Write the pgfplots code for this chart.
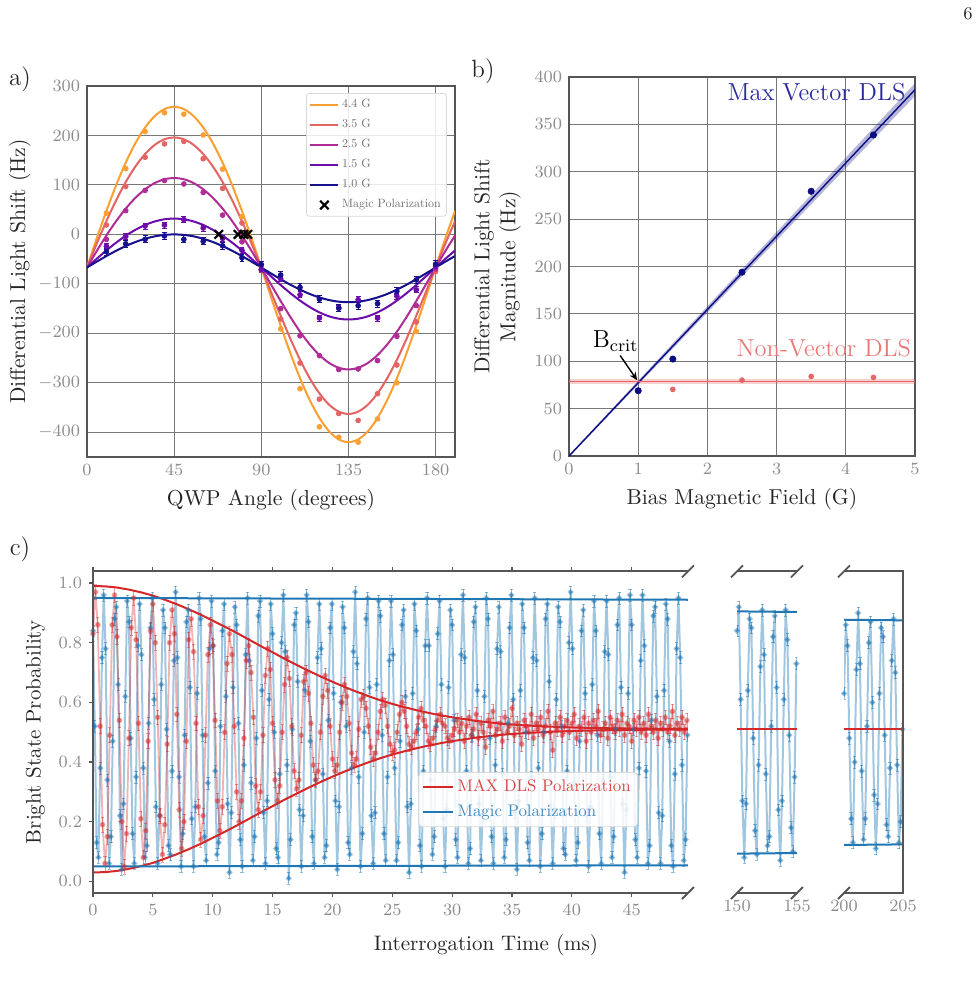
\RequirePackage{fix-cm}
\documentclass[border=0pt]{standalone}
\usepackage{pgfplots}
\pgfplotsset{compat=1.18}
\usetikzlibrary{arrows.meta}
\definecolor{tabblue}{RGB}{31,119,180}
\definecolor{tabred}{RGB}{214,39,40}
\definecolor{cA}{RGB}{250,160,50}
\definecolor{cB}{RGB}{228,100,100}
\definecolor{cC}{RGB}{176,44,150}
\definecolor{cD}{RGB}{108,12,170}
\definecolor{cE}{RGB}{22,16,140}
\definecolor{navyb}{RGB}{12,12,130}
\definecolor{navyt}{RGB}{40,40,160}
\definecolor{salm}{RGB}{228,102,102}
\definecolor{salmt}{RGB}{235,120,120}
\definecolor{framec}{RGB}{85,85,85}
\definecolor{gridc}{RGB}{120,120,120}
\definecolor{tickc}{RGB}{140,140,140}
\definecolor{legt}{RGB}{110,110,110}
\pgfplotsset{
  panel/.style={
    scale only axis,
    axis line style={draw=framec, line width=1pt},
    grid=major,
    grid style={gridc, line width=0.5pt},
    major tick length=0pt,
    tick label style={font=\fontsize{8.6}{10}\selectfont, text=tickc},
    label style={font=\fontsize{10.8}{13}\selectfont, text=black!85},
  },
  cpanel/.style={
    scale only axis,
    axis line style={draw=none},
    ymin=-0.039, ymax=1.039, height=160.8pt,
    tick label style={font=\fontsize{8.6}{10}\selectfont, text=tickc},
    label style={font=\fontsize{10.5}{13}\selectfont, text=black!85},
  },
  bdata/.style={forget plot, draw=tabblue, draw opacity=0.42, line width=1pt, mark=*, mark size=0.95pt,
    mark options={draw=none, fill=tabblue, fill opacity=0.55},
    error bars/.cd, y dir=both, y fixed=0.02,
    error bar style={tabblue, line width=0.3pt, draw opacity=0.5},
    error mark options={tabblue, draw opacity=0.5, mark size=0.8pt, rotate=90, line width=0.3pt}},
  rdata/.style={forget plot, draw=tabred, draw opacity=0.35, line width=0.9pt, mark=*, mark size=1pt,
    mark options={draw=none, fill=tabred, fill opacity=0.45},
    error bars/.cd, y dir=both, y fixed=0.025,
    error bar style={tabred, line width=0.3pt, draw opacity=0.45},
    error mark options={tabred, draw opacity=0.45, mark size=0.8pt, rotate=90, line width=0.3pt}},
}
\newcommand\legtxt[1]{\scalebox{0.6}{\fontsize{10}{12}\selectfont\textcolor{legt}{#1}}}
\newcommand\legc[2]{\scalebox{0.84}{\fontsize{10}{12}\selectfont\textcolor{#1}{#2}}}
\begin{document}
\begin{tikzpicture}
\path[use as bounding box] (0pt,0pt) rectangle (488.5pt,-496pt);
\node[font=\fontsize{9}{10}\selectfont, text=black!85] at (484pt,-7pt) {6};
\node[font=\fontsize{12.5}{14}\selectfont, text=black!85] at (10pt,-39.5pt) {a)};
\node[font=\fontsize{12.5}{14}\selectfont, text=black!85] at (241.5pt,-35.5pt) {b)};
\node[font=\fontsize{12.5}{14}\selectfont, text=black!85] at (10pt,-274.5pt) {c)};

% ---------------- panel a ----------------
\begin{axis}[panel, name=pa, at={(43.5pt,-228.5pt)}, anchor=south west,
  width=184pt, height=185.5pt,
  xmin=0, xmax=190, ymin=-450, ymax=300,
  xtick={0,45,90,135,180}, ytick={-400,-300,-200,-100,0,100,200,300},
  xlabel={QWP Angle (degrees)}, ylabel={Differential Light Shift (Hz)}, ylabel shift=-3pt,
  legend style={at={(0.978,0.981)}, anchor=north east, font=\fontsize{10}{12}\selectfont,
    draw=black!15, rounded corners=1.5pt, fill=white, fill opacity=0.85, text opacity=1,
    row sep=1.7pt, inner sep=1.5pt, nodes={inner sep=1.3pt}},
  legend cell align=left,
  legend image code/.code={\draw[mark repeat=2,mark phase=2,#1] plot coordinates {(0pt,0pt) (7pt,0pt) (14pt,0pt)};},
]
\addplot[cA, line width=1pt, smooth, tension=0.5] coordinates {(0,-67)(5,-8.4)(10,47.3)(15,99)(20,145.2)(25,184.5)(30,216.1)(35,239.3)(40,253.3)(45,258)(50,253.3)(55,239.3)(60,216.1)(65,184.5)(70,145.2)(75,99)(80,47.3)(85,-8.4)(90,-67)(95,-126.4)(100,-184.5)(105,-240)(110,-290.8)(115,-334.9)(120,-371.1)(125,-398.1)(130,-414.5)(135,-420)(140,-414.5)(145,-398.1)(150,-371.1)(155,-334.9)(160,-290.8)(165,-240)(170,-184.5)(175,-126.4)(180,-67)(185,-8.4)(190,47.3)};
\addlegendentry{\legtxt{4.4 G}}
\addplot[cB, line width=1pt, smooth, tension=0.5] coordinates {(0,-67)(5,-18.9)(10,26.7)(15,68.6)(20,105.9)(25,137.4)(30,162.6)(35,181.1)(40,192.3)(45,196)(50,192.3)(55,181.1)(60,162.6)(65,137.4)(70,105.9)(75,68.6)(80,26.7)(85,-18.9)(90,-67)(95,-116.1)(100,-164.5)(105,-210.9)(110,-253.5)(115,-290.8)(120,-321.4)(125,-344.3)(130,-358.3)(135,-363)(140,-358.3)(145,-344.3)(150,-321.4)(155,-290.8)(160,-253.5)(165,-210.9)(170,-164.5)(175,-116.1)(180,-67)(185,-18.9)(190,26.7)};
\addlegendentry{\legtxt{3.5 G}}
\addplot[cC, line width=1pt, smooth, tension=0.5] coordinates {(0,-67)(5,-33.7)(10,-2.3)(15,26.6)(20,52.2)(25,73.9)(30,91.2)(35,103.9)(40,111.5)(45,114)(50,111.5)(55,103.9)(60,91.2)(65,73.9)(70,52.2)(75,26.6)(80,-2.3)(85,-33.7)(90,-67)(95,-101.1)(100,-134.7)(105,-166.9)(110,-196.6)(115,-222.5)(120,-244)(125,-259.9)(130,-269.7)(135,-273)(140,-269.7)(145,-259.9)(150,-244)(155,-222.5)(160,-196.6)(165,-166.9)(170,-134.7)(175,-101.1)(180,-67)(185,-33.7)(190,-2.3)};
\addlegendentry{\legtxt{2.5 G}}
\addplot[cD, line width=1pt, smooth, tension=0.5] coordinates {(0,-67)(5,-49.4)(10,-32.5)(15,-16.8)(20,-2.6)(25,9.3)(30,19.1)(35,26.2)(40,30.6)(45,32)(50,30.6)(55,26.2)(60,19.1)(65,9.3)(70,-2.6)(75,-16.8)(80,-32.5)(85,-49.4)(90,-67)(95,-84.8)(100,-102.3)(105,-118.8)(110,-133.8)(115,-146.9)(120,-157.6)(125,-165.6)(130,-170.4)(135,-172)(140,-170.4)(145,-165.6)(150,-157.6)(155,-146.9)(160,-133.8)(165,-118.8)(170,-102.3)(175,-84.8)(180,-67)(185,-49.4)(190,-32.5)};
\addlegendentry{\legtxt{1.5 G}}
\addplot[cE, line width=1pt, smooth, tension=0.5] coordinates {(0,-67)(5,-55.1)(10,-43.8)(15,-33.1)(20,-23.6)(25,-15.4)(30,-8.8)(35,-3.9)(40,-1)(45,0)(50,-1)(55,-3.9)(60,-8.8)(65,-15.4)(70,-23.6)(75,-33.1)(80,-43.8)(85,-55.1)(90,-67)(95,-78.9)(100,-90.6)(105,-101.7)(110,-111.6)(115,-120.4)(120,-127.4)(125,-132.7)(130,-136)(135,-137)(140,-136)(145,-132.7)(150,-127.4)(155,-120.4)(160,-111.6)(165,-101.7)(170,-90.6)(175,-78.9)(180,-67)(185,-55.1)(190,-43.8)};
\addlegendentry{\legtxt{1.0 G}}
\addplot[forget plot, only marks, mark=*, mark size=1.2pt, cA] coordinates {(10,43)(20,133)(30,208)(40,246)(50,243)(60,201)(70,132)(80,36)(90,-65)(100,-191)(110,-312)(120,-389)(130,-410)(140,-420)(150,-373)(160,-300)(170,-196)(180,-65)};
\addplot[forget plot, only marks, mark=*, mark size=1.2pt, cB] coordinates {(10,19)(20,97)(30,156)(40,183)(50,188)(60,153)(70,93)(80,23)(90,-72)(100,-171)(110,-260)(120,-333)(130,-362)(140,-376)(150,-322)(160,-264)(170,-177)(180,-75)};
\addplot[forget plot, only marks, mark=*, mark size=1.2pt, cC] coordinates {(10,-10)(20,48)(30,89)(40,109)(50,102)(60,85)(70,39)(80,-15)(90,-71)(100,-150)(110,-205)(120,-245)(130,-273)(140,-272)(150,-255)(160,-206)(170,-144)(180,-70)};
\addplot[forget plot, only marks, mark=*, mark size=1.2pt, cD, error bars/.cd, y dir=both, y fixed=6, error bar style={line width=0.6pt}] coordinates {(10,-24)(20,-4)(30,17)(40,19)(50,30)(60,13)(70,-8)(80,-32)(90,-71)(100,-90)(110,-122)(120,-169)(130,-149)(140,-132)(150,-169)(160,-125)(170,-112)(180,-65)};
\addplot[forget plot, only marks, mark=*, mark size=1.2pt, cE, error bars/.cd, y dir=both, y fixed=7, error bar style={line width=0.6pt}] coordinates {(10,-35)(20,-19)(30,-10)(40,-3)(50,-10)(60,-14)(70,-23)(80,-47)(90,-61)(100,-82)(110,-107)(120,-131)(130,-149)(140,-144)(150,-140)(160,-115)(170,-92)(180,-60)};
\addplot[only marks, mark=x, mark size=3pt, black, line width=1.1pt] coordinates {(68,0)(78,0)(81,0)(83,0)};
\addlegendentry{\legtxt{Magic Polarization}}
\end{axis}

% ---------------- panel b ----------------
\begin{axis}[panel, name=pb, at={(284.5pt,-228pt)}, anchor=south west,
  width=173pt, height=189.5pt,
  xmin=0, xmax=5, ymin=0, ymax=400,
  xtick={0,1,2,3,4,5}, ytick={0,50,100,150,200,250,300,350,400},
  xlabel={Bias Magnetic Field (G)},
  ylabel={Differential Light Shift\\Magnitude (Hz)}, ylabel style={align=center},
]
\addplot[fill=navyb, fill opacity=0.3, draw=none] coordinates {(0,-1)(5,380)(5,393.5)(0,1)};
\addplot[fill=salm, fill opacity=0.3, draw=none] coordinates {(0,75.7)(5,75.7)(5,81.7)(0,81.7)};
\addplot[navyb, line width=0.7pt] coordinates {(0,0)(5,386.6)};
\addplot[salm, line width=0.9pt] coordinates {(0,78.7)(5,78.7)};
\addplot[only marks, mark=*, mark size=1.2pt, salm] coordinates {(1,69)(1.5,70.3)(2.5,80.1)(3.5,84)(4.4,83)};
\addplot[only marks, mark=*, mark size=1.55pt, navyb] coordinates {(1,68.9)(1.5,102.3)(2.5,194)(3.5,279.4)(4.4,338.8)};
\node[anchor=base east, inner sep=0pt, text=navyt, font=\fontsize{12.3}{14}\selectfont] at (axis cs:4.87,375) {Max Vector DLS};
\node[anchor=base east, inner sep=0pt, text=salmt, font=\fontsize{12.3}{14}\selectfont] at (axis cs:4.95,105) {Non-Vector DLS};
\node[anchor=base west, inner sep=0pt, font=\fontsize{12.3}{14}\selectfont] at (axis cs:0.34,114.7) {B$_{\mathrm{crit}}$};
\draw[-{Stealth[length=4pt,width=3.5pt]}, line width=0.7pt] (axis cs:0.74,106) -- (axis cs:0.985,80);
\end{axis}

% ---------------- panel c main ----------------
\begin{axis}[cpanel, name=pc, at={(46.5pt,-446.5pt)}, anchor=south west,
  width=297.5pt, xmin=0, xmax=49.7,
  xtick={0,5,10,15,20,25,30,35,40,45}, ytick={0,0.2,0.4,0.6,0.8,1},
  yticklabel style={/pgf/number format/.cd, fixed, fixed zerofill, precision=1},
  tick align=outside, major tick length=2pt, tick style={framec, line width=0.6pt},
  xtick pos=both, ytick pos=left,
  ylabel={Bright State Probability},
  legend style={at={(0.916,0.205)}, anchor=south east, font=\fontsize{10}{12}\selectfont,
    draw=black!15, rounded corners=2pt, fill=white, fill opacity=0.85, text opacity=1,
    row sep=1.3pt, inner sep=1.5pt, nodes={inner sep=2pt}},
  legend cell align=left,
  legend image code/.code={\draw[#1] (0pt,0pt) -- (15pt,0pt);},
]
\addplot[bdata] coordinates {
(0,0.84)(0.15,0.52)(0.3,0.13)(0.45,0.08)(0.6,0.38)(0.75,0.75)(0.9,0.96)(1.05,0.78)(1.2,0.34)(1.35,0.06)(1.5,0.15)(1.65,0.47)(1.8,0.88)(1.95,0.92)(2.1,0.66)(2.25,0.22)(2.4,0.04)(2.55,0.26)(2.7,0.62)(2.85,0.94)
(3,0.87)(3.15,0.48)(3.3,0.16)(3.45,0.06)(3.6,0.35)(3.75,0.79)(3.9,0.93)(4.05,0.76)(4.2,0.38)(4.35,0.08)(4.5,0.12)(4.65,0.53)(4.8,0.85)(4.95,0.95)(5.1,0.61)(5.25,0.25)(5.4,0.06)(5.55,0.22)(5.7,0.66)(5.85,0.91)
(6,0.85)(6.15,0.51)(6.3,0.12)(6.45,0.09)(6.6,0.37)(6.75,0.74)(6.9,0.97)(7.05,0.75)(7.2,0.35)(7.35,0.05)(7.5,0.16)(7.65,0.49)(7.8,0.87)(7.95,0.91)(8.1,0.65)(8.25,0.21)(8.4,0.05)(8.55,0.25)(8.7,0.63)(8.85,0.95)
(9,0.88)(9.15,0.49)(9.3,0.15)(9.45,0.07)(9.6,0.33)(9.75,0.78)(9.9,0.94)(10.05,0.79)(10.2,0.37)(10.35,0.09)(10.5,0.13)(10.65,0.52)(10.8,0.84)(10.95,0.93)(11.1,0.62)(11.25,0.26)(11.4,0.03)(11.55,0.23)(11.7,0.65)(11.85,0.92)
(12,0.86)(12.15,0.53)(12.3,0.14)(12.45,0.05)(12.6,0.39)(12.75,0.76)(12.9,0.95)(13.05,0.74)(13.2,0.33)(13.35,0.07)(13.5,0.15)(13.65,0.48)(13.8,0.89)(13.95,0.94)(14.1,0.64)(14.25,0.23)(14.4,0.06)(14.55,0.27)(14.7,0.61)(14.85,0.93)
(15,0.83)(15.15,0.50)(15.3,0.11)(15.45,0.08)(15.6,0.36)(15.75,0.80)(15.9,0.96)(16.05,0.77)(16.2,0.39)(16.35,0.01)(16.5,0.14)(16.65,0.51)(16.8,0.86)(16.95,0.90)(17.1,0.67)(17.25,0.24)(17.4,0.05)(17.55,0.22)(17.7,0.64)(17.85,0.96)
(18,0.87)(18.15,0.47)(18.3,0.15)(18.45,0.06)(18.6,0.34)(18.75,0.75)(18.9,0.93)(19.05,0.78)(19.2,0.36)(19.35,0.08)(19.5,0.12)(19.65,0.54)(19.8,0.85)(19.95,0.93)(20.1,0.63)(20.25,0.27)(20.4,0.04)(20.55,0.25)(20.7,0.60)(20.85,0.92)
(21,0.85)(21.15,0.52)(21.3,0.13)(21.45,0.09)(21.6,0.38)(21.75,0.77)(21.9,0.97)(22.05,0.73)(22.2,0.35)(22.35,0.05)(22.5,0.16)(22.65,0.50)(22.8,0.88)(22.95,0.95)(23.1,0.65)(23.25,0.22)(23.4,0.06)(23.55,0.23)(23.7,0.66)(23.85,0.94)
(24,0.89)(24.15,0.49)(24.3,0.16)(24.45,0.07)(24.6,0.35)(24.75,0.74)(24.9,0.94)(25.05,0.76)(25.2,0.38)(25.35,0.07)(25.5,0.13)(25.65,0.47)(25.8,0.86)(25.95,0.91)(26.1,0.62)(26.25,0.25)(26.4,0.03)(26.55,0.26)(26.7,0.63)(26.85,0.93)
(27,0.84)(27.15,0.51)(27.3,0.12)(27.45,0.05)(27.6,0.37)(27.75,0.79)(27.9,0.95)(28.05,0.79)(28.2,0.34)(28.35,0.09)(28.5,0.15)(28.65,0.52)(28.8,0.83)(28.95,0.94)(29.1,0.66)(29.25,0.21)(29.4,0.05)(29.55,0.24)(29.7,0.65)(29.85,0.91)
(30,0.86)(30.15,0.54)(30.3,0.14)(30.45,0.08)(30.6,0.33)(30.75,0.76)(30.9,0.96)(31.05,0.75)(31.2,0.37)(31.35,0.06)(31.5,0.11)(31.65,0.49)(31.8,0.87)(31.95,0.92)(32.1,0.64)(32.25,0.26)(32.4,0.07)(32.55,0.22)(32.7,0.62)(32.85,0.95)
(33,0.88)(33.15,0.48)(33.3,0.15)(33.45,0.06)(33.6,0.39)(33.75,0.78)(33.9,0.92)(34.05,0.77)(34.2,0.36)(34.35,0.08)(34.5,0.14)(34.65,0.53)(34.8,0.85)(34.95,0.96)(35.1,0.61)(35.25,0.23)(35.4,0.04)(35.55,0.27)(35.7,0.64)(35.85,0.93)
(36,0.85)(36.15,0.50)(36.3,0.13)(36.45,0.07)(36.6,0.35)(36.75,0.75)(36.9,0.95)(37.05,0.74)(37.2,0.38)(37.35,0.05)(37.5,0.16)(37.65,0.50)(37.8,0.88)(37.95,0.93)(38.1,0.67)(38.25,0.24)(38.4,0.06)(38.55,0.23)(38.7,0.61)(38.85,0.92)
(39,0.87)(39.15,0.52)(39.3,0.11)(39.45,0.09)(39.6,0.37)(39.75,0.80)(39.9,0.97)(40.05,0.78)(40.2,0.33)(40.35,0.07)(40.5,0.13)(40.65,0.47)(40.8,0.84)(40.95,0.91)(41.1,0.63)(41.25,0.22)(41.4,0.05)(41.55,0.25)(41.7,0.66)(41.85,0.94)
(42,0.84)(42.15,0.49)(42.3,0.16)(42.45,0.06)(42.6,0.34)(42.75,0.77)(42.9,0.94)(43.05,0.76)(43.2,0.35)(43.35,0.08)(43.5,0.15)(43.65,0.51)(43.8,0.86)(43.95,0.95)(44.1,0.65)(44.25,0.26)(44.4,0.03)(44.55,0.24)(44.7,0.63)(44.85,0.96)
(45,0.86)(45.15,0.51)(45.3,0.14)(45.45,0.08)(45.6,0.38)(45.75,0.74)(45.9,0.96)(46.05,0.79)(46.2,0.37)(46.35,0.06)(46.5,0.12)(46.65,0.54)(46.8,0.89)(46.95,0.92)(47.1,0.62)(47.25,0.23)(47.4,0.06)(47.55,0.22)(47.7,0.64)(47.85,0.93)
(48,0.88)(48.15,0.47)(48.3,0.12)(48.45,0.05)(48.6,0.36)(48.75,0.78)(48.9,0.95)(49.05,0.75)(49.2,0.39)(49.35,0.07)(49.5,0.14)(49.65,0.49)
};
\addplot[rdata] coordinates {
(0,0.83)(0.2,0.97)(0.4,0.86)(0.6,0.52)(0.8,0.19)(1,0.06)(1.2,0.15)(1.4,0.49)
(1.6,0.86)(1.8,0.96)(2,0.82)(2.2,0.54)(2.4,0.20)(2.6,0.05)(2.8,0.16)(3,0.48)
(3.2,0.85)(3.4,0.95)(3.6,0.81)(3.8,0.53)(4,0.21)(4.2,0.08)(4.4,0.17)(4.6,0.47)
(4.8,0.84)(5,0.93)(5.2,0.80)(5.4,0.55)(5.6,0.22)(5.8,0.09)(6,0.19)(6.2,0.46)
(6.4,0.80)(6.6,0.91)(6.8,0.83)(7,0.56)(7.2,0.24)(7.4,0.11)(7.6,0.20)(7.8,0.47)
(8,0.81)(8.2,0.88)(8.4,0.77)(8.6,0.53)(8.8,0.25)(9,0.14)(9.2,0.22)(9.4,0.49)
(9.6,0.76)(9.8,0.86)(10,0.79)(10.2,0.54)(10.4,0.27)(10.6,0.17)(10.8,0.25)(11,0.50)
(11.2,0.73)(11.4,0.83)(11.6,0.76)(11.8,0.52)(12,0.30)(12.2,0.20)(12.4,0.27)(12.6,0.48)
(12.8,0.74)(13,0.79)(13.2,0.70)(13.4,0.55)(13.6,0.32)(13.8,0.24)(14,0.30)(14.2,0.49)
(14.4,0.69)(14.6,0.78)(14.8,0.71)(15,0.53)(15.2,0.34)(15.4,0.27)(15.6,0.32)(15.8,0.50)
(16,0.66)(16.2,0.75)(16.4,0.68)(16.6,0.52)(16.8,0.37)(17,0.31)(17.2,0.34)(17.4,0.49)
(17.6,0.67)(17.8,0.70)(18,0.63)(18.2,0.53)(18.4,0.39)(18.6,0.34)(18.8,0.37)(19,0.50)
(19.2,0.62)(19.4,0.69)(19.6,0.64)(19.8,0.52)(20,0.41)(20.2,0.37)(20.4,0.39)(20.6,0.50)
(20.8,0.60)(21,0.66)(21.2,0.62)(21.4,0.53)(21.6,0.43)(21.8,0.39)(22,0.41)(22.2,0.51)
(22.4,0.61)(22.6,0.62)(22.8,0.58)(23,0.52)(23.2,0.45)(23.4,0.41)(23.6,0.43)(23.8,0.50)
(24,0.57)(24.2,0.61)(24.4,0.59)(24.6,0.52)(24.8,0.46)(25,0.43)(25.2,0.44)(25.4,0.50)
(25.6,0.56)(25.8,0.60)(26,0.57)(26.2,0.52)(26.4,0.46)(26.6,0.45)(26.8,0.47)(27,0.50)
(27.2,0.55)(27.4,0.58)(27.6,0.54)(27.8,0.52)(28,0.47)(28.2,0.46)(28.4,0.48)(28.6,0.51)
(28.8,0.54)(29,0.56)(29.2,0.53)(29.4,0.52)(29.6,0.48)(29.8,0.47)(30,0.49)(30.2,0.51)
(30.4,0.54)(30.6,0.50)(30.8,0.53)(31,0.47)(31.2,0.52)(31.4,0.55)(31.6,0.49)(31.8,0.51)(32,0.56)(32.2,0.48)
(32.4,0.53)(32.6,0.50)(32.8,0.45)(33,0.54)(33.2,0.52)(33.4,0.57)(33.6,0.49)(33.8,0.51)(34,0.53)(34.2,0.47)
(34.4,0.55)(34.6,0.50)(34.8,0.52)(35,0.58)(35.2,0.49)(35.4,0.53)(35.6,0.51)(35.8,0.46)(36,0.54)(36.2,0.52)
(36.4,0.50)(36.6,0.56)(36.8,0.48)(37,0.53)(37.2,0.51)(37.4,0.55)(37.6,0.49)(37.8,0.52)(38,0.57)(38.2,0.50)
(38.4,0.44)(38.6,0.53)(38.8,0.51)(39,0.55)(39.2,0.49)(39.4,0.52)(39.6,0.54)(39.8,0.50)(40,0.53)(40.2,0.56)
(40.4,0.48)(40.6,0.52)(40.8,0.51)(41,0.55)(41.2,0.47)(41.4,0.53)(41.6,0.50)(41.8,0.54)(42,0.52)(42.2,0.57)
(42.4,0.49)(42.6,0.51)(42.8,0.53)(43,0.48)(43.2,0.55)(43.4,0.52)(43.6,0.50)(43.8,0.54)(44,0.51)(44.2,0.56)
(44.4,0.49)(44.6,0.53)(44.8,0.52)(45,0.47)(45.2,0.54)(45.4,0.51)(45.6,0.55)(45.8,0.50)(46,0.53)(46.2,0.49)
(46.4,0.56)(46.6,0.52)(46.8,0.50)(47,0.54)(47.2,0.48)(47.4,0.53)(47.6,0.51)(47.8,0.55)(48,0.50)(48.2,0.52)
(48.4,0.57)(48.6,0.49)(48.8,0.53)(49,0.51)(49.2,0.55)(49.4,0.50)(49.6,0.54)
};
\addplot[tabred, line width=1pt] coordinates {(0,0.990)(1,0.989)(2,0.985)(3,0.978)(4,0.969)(5,0.958)(6,0.944)(7,0.929)(8,0.912)(9,0.894)(10,0.874)(11,0.854)(12,0.833)(13,0.811)(14,0.789)(15,0.768)(16,0.746)(17,0.726)(18,0.706)(19,0.687)(20,0.669)(21,0.652)(22,0.636)(23,0.621)(24,0.607)(25,0.595)(26,0.584)(27,0.574)(28,0.565)(29,0.557)(30,0.550)(32,0.538)(34,0.529)(36,0.523)(38,0.519)(40,0.516)(42,0.514)(45,0.512)(49.7,0.511)};
\addlegendentry{\legc{tabred!85}{MAX DLS Polarization}}
\addplot[tabblue, line width=1pt] coordinates {(0,0.950)(49.7,0.944)};
\addlegendentry{\legc{tabblue!85}{Magic Polarization}}
\addplot[forget plot, tabred, line width=1pt] coordinates {(0,0.030)(1,0.031)(2,0.035)(3,0.042)(4,0.051)(5,0.062)(6,0.076)(7,0.091)(8,0.108)(9,0.126)(10,0.146)(11,0.166)(12,0.187)(13,0.209)(14,0.231)(15,0.252)(16,0.274)(17,0.294)(18,0.314)(19,0.333)(20,0.351)(21,0.368)(22,0.384)(23,0.399)(24,0.413)(25,0.425)(26,0.436)(27,0.446)(28,0.455)(29,0.463)(30,0.470)(32,0.482)(34,0.491)(36,0.497)(38,0.501)(40,0.504)(42,0.506)(45,0.508)(49.7,0.509)};
\addplot[forget plot, tabblue, line width=1pt] coordinates {(0,0.050)(49.7,0.054)};
\end{axis}

% ---------------- panel c: 150-155 ----------------
\begin{axis}[cpanel, name=ps1, at={(368.5pt,-446.5pt)}, anchor=south west,
  width=30pt, xmin=150, xmax=155, xtick={150,155}, ytick=\empty, major tick length=0pt]
\addplot[bdata] coordinates {(150,0.84)(150.15,0.92)(150.3,0.61)(150.45,0.27)(150.6,0.08)(150.75,0.26)(150.9,0.64)(151.05,0.88)(151.2,0.85)(151.35,0.48)(151.5,0.17)(151.65,0.09)(151.8,0.39)(151.95,0.72)(152.1,0.91)(152.25,0.76)(152.4,0.36)(152.55,0.12)(152.7,0.15)(152.85,0.52)(153,0.82)(153.15,0.89)(153.3,0.65)(153.45,0.24)(153.6,0.07)(153.75,0.27)(153.9,0.61)(154.05,0.91)(154.2,0.81)(154.35,0.49)(154.5,0.18)(154.65,0.10)(154.8,0.35)(154.95,0.73)};
\addplot[tabred, line width=1pt] coordinates {(150,0.511)(155,0.511)};
\addplot[tabblue, line width=1pt] coordinates {(150,0.905)(155,0.903)};
\addplot[tabblue, line width=1pt] coordinates {(150,0.093)(155,0.095)};
\end{axis}

% ---------------- panel c: 200-205 ----------------
\begin{axis}[cpanel, name=ps2, at={(422pt,-446.5pt)}, anchor=south west,
  width=29.5pt, xmin=200, xmax=205, xtick={200,205}, ytick=\empty, major tick length=0pt]
\addplot[bdata] coordinates {(200,0.63)(200.15,0.86)(200.3,0.79)(200.45,0.48)(200.6,0.21)(200.75,0.13)(200.9,0.40)(201.05,0.71)(201.2,0.90)(201.35,0.73)(201.5,0.37)(201.65,0.14)(201.8,0.21)(201.95,0.52)(202.1,0.80)(202.25,0.87)(202.4,0.60)(202.55,0.29)(202.7,0.11)(202.85,0.26)(203,0.63)(203.15,0.85)(203.3,0.82)(203.45,0.49)(203.6,0.19)(203.75,0.15)(203.9,0.38)(204.05,0.74)(204.2,0.88)(204.35,0.70)(204.5,0.39)(204.65,0.13)(204.8,0.20)(204.95,0.51)};
\addplot[tabred, line width=1pt] coordinates {(200,0.511)(205,0.511)};
\addplot[tabblue, line width=1pt] coordinates {(200,0.877)(205,0.875)};
\addplot[tabblue, line width=1pt] coordinates {(200,0.122)(205,0.124)};
\end{axis}

% frames and break marks
\draw[framec, line width=1pt] (pc.north east) -- (pc.north west) -- (pc.south west) -- (pc.south east);
\draw[framec, line width=1pt] (ps1.north west) -- (ps1.north east) (ps1.south west) -- (ps1.south east);
\draw[framec, line width=1pt] (ps2.north west) -- (ps2.north east) -- (ps2.south east) -- (ps2.south west);
\foreach \c in {pc.north east, pc.south east, ps1.north west, ps1.south west, ps1.north east, ps1.south east, ps2.north west, ps2.south west}
  \draw[framec, line width=0.9pt] ([shift={(-3pt,-3pt)}]\c) -- ++(6pt,6pt);
\node[font=\fontsize{10.5}{13}\selectfont, text=black!85] at (243pt,-472.5pt) {Interrogation Time (ms)};
\end{tikzpicture}
\end{document}
